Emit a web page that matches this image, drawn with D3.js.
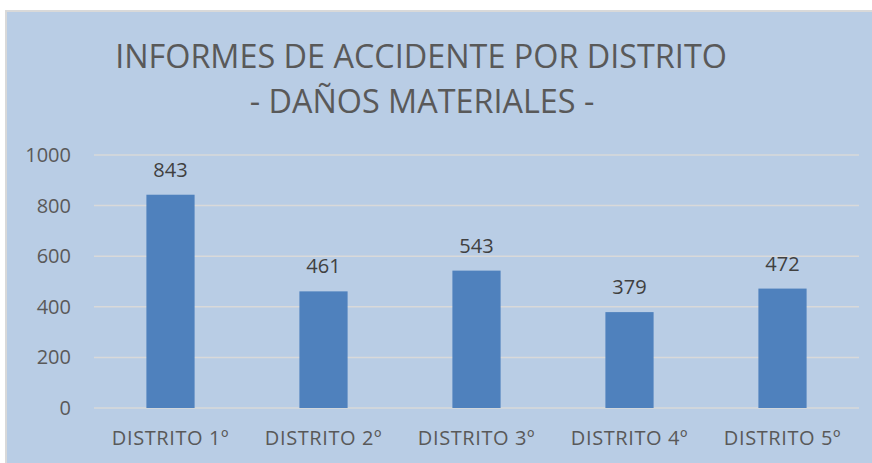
<!DOCTYPE html>
<html>
<head>
<meta charset="utf-8">
<script src="https://cdn.jsdelivr.net/npm/d3@7"></script>
<style>
  body { margin: 0; background: #fff; }
  text { font-family: "Open Sans", "Liberation Sans", sans-serif; }
</style>
</head>
<body>
<div id="chart"></div>
<script>
// data
var distritos = ["DISTRITO 1º", "DISTRITO 2º", "DISTRITO 3º", "DISTRITO 4º", "DISTRITO 5º"];
var informes = [843, 461, 543, 379, 472];
var yTicks = [0, 200, 400, 600, 800, 1000];
var titleLines = ["INFORMES DE ACCIDENTE POR DISTRITO", "- DAÑOS MATERIALES -"];

var W = 872, H = 463;
var margin = { left: 94, right: 13, top: 155, bottom: 55 };
var width = W - margin.left - margin.right;
var height = H - margin.top - margin.bottom;

var svg = d3.select("#chart").append("svg")
    .attr("width", W)
    .attr("height", H);

// chart area background with grey border on top/left
svg.append("rect")
    .attr("x", 6).attr("y", 11)
    .attr("width", W).attr("height", H)
    .attr("fill", "#b9cde5")
    .attr("stroke", "#d9d9d9")
    .attr("stroke-width", 2);

// squeeze a text to a target width by adjusting font-size
function fit(sel, target) {
    var size = +sel.attr("font-size");
    var len = sel.node().getComputedTextLength();
    sel.attr("font-size", (size * target / len).toFixed(2));
}

var title1 = svg.append("text")
    .attr("x", 421).attr("y", 68)
    .attr("text-anchor", "middle")
    .attr("font-size", 32)
    .attr("fill", "#595959")
    .text(titleLines[0]);
fit(title1, 612);

var title2 = svg.append("text")
    .attr("x", 422).attr("y", 113)
    .attr("text-anchor", "middle")
    .attr("font-size", title1.attr("font-size"))
    .attr("fill", "#595959")
    .text(titleLines[1]);

var g = svg.append("g")
    .attr("transform", "translate(" + margin.left + "," + margin.top + ")");

var x = d3.scaleBand().domain(distritos).range([0, width]).paddingInner(0.685).paddingOuter(0.3425);
var y = d3.scaleLinear().domain([0, 1000]).range([height, 0]);

// gridlines
g.selectAll(".grid")
    .data(yTicks)
    .enter().append("line")
    .attr("class", "grid")
    .attr("x1", 0).attr("x2", width)
    .attr("y1", function(d) { return y(d); })
    .attr("y2", function(d) { return y(d); })
    .attr("stroke", "#d9d9d9")
    .attr("stroke-width", 1.5);

// y axis labels
var yAxis = g.append("g")
    .call(d3.axisLeft(y).tickValues(yTicks).tickFormat(d3.format("d")).tickSize(0).tickPadding(23));
yAxis.select(".domain").remove();
yAxis.selectAll("text")
    .attr("font-size", 20)
    .attr("fill", "#595959");

// x axis labels
var xAxis = g.append("g")
    .attr("transform", "translate(0," + height + ")")
    .call(d3.axisBottom(x).tickSize(0).tickPadding(23));
xAxis.select(".domain").remove();
xAxis.selectAll("text")
    .attr("font-size", 20)
    .attr("letter-spacing", "0.6px")
    .attr("fill", "#595959");

// bars
g.selectAll(".bar")
    .data(informes)
    .enter().append("rect")
    .attr("class", "bar")
    .attr("x", function(d, i) { return x(distritos[i]); })
    .attr("y", function(d) { return y(d); })
    .attr("width", x.bandwidth())
    .attr("height", function(d) { return height - y(d); })
    .attr("fill", "#4f81bd");

// value labels
g.selectAll(".value")
    .data(informes)
    .enter().append("text")
    .attr("class", "value")
    .attr("x", function(d, i) { return x(distritos[i]) + x.bandwidth() / 2; })
    .attr("y", function(d) { return y(d) - 18; })
    .attr("text-anchor", "middle")
    .attr("font-size", 20)
    .attr("fill", "#404040")
    .text(function(d) { return d; });
</script>
</body>
</html>
